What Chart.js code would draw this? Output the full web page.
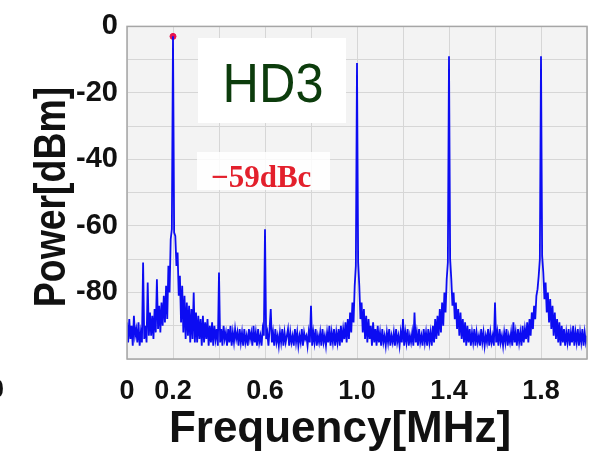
<!DOCTYPE html>
<html>
<head>
<meta charset="utf-8">
<script src="https://cdn.jsdelivr.net/npm/chart.js@4/dist/chart.umd.min.js"></script>
<style>
  html, body { margin: 0; padding: 0; background: #fff; }
  #wrap { width: 603px; height: 458px; }
</style>
</head>
<body>
<div id="wrap"><canvas id="spectrum" width="603" height="458"></canvas></div>
<script>
// spectrum of the HD3 measurement, one bin every 5 kHz from 0 to 2 MHz
const freqStartMHz = 0;
const freqStepMHz = 0.005;
const powerDbm = [
  -89, -95, -88, -94, -90, -96, -87, -93, -91, -95, -89, -96, -92, -95, -71, -94, -90, -95, -77, -93,
  -86, -93, -87, -94, -85, -92, -76, -91, -84, -92, -83, -90, -81, -89, -78, -88, -72, -80, -64, -61,
  -3, -62, -63, -72, -68, -81, -75, -89, -78, -92, -81, -94, -83, -93, -84, -95, -85, -94, -80, -95,
  -86, -95, -87, -94, -88, -96, -87, -95, -89, -94, -88, -96, -90, -95, -89, -96, -90, -94, -91, -96,
  -74, -95, -91, -96, -90, -94, -92, -96, -91, -95, -90, -96, -92, -95, -91, -94, -92, -96, -91, -95,
  -92, -96, -91, -95, -93, -96, -91, -94, -92, -96, -90, -95, -92, -96, -91, -95, -93, -96, -91, -93,
  -61, -94, -92, -96, -91, -85, -95, -92, -96, -91, -95, -93, -96, -92, -95, -91, -96, -92, -95, -93,
  -91, -96, -92, -95, -93, -96, -91, -95, -92, -96, -93, -95, -91, -96, -92, -94, -93, -96, -92, -95,
  -84, -96, -92, -95, -91, -96, -93, -95, -92, -96, -91, -95, -93, -96, -92, -95, -90, -96, -92, -95,
  -91, -96, -92, -95, -91, -96, -90, -95, -91, -94, -89, -95, -88, -94, -86, -92, -83, -89, -78, -72,
  -11, -71, -78, -88, -83, -92, -85, -94, -87, -95, -88, -94, -90, -96, -89, -95, -91, -96, -90, -95,
  -92, -96, -91, -95, -93, -96, -92, -95, -91, -96, -93, -95, -92, -96, -91, -95, -93, -96, -92, -95,
  -88, -96, -92, -95, -91, -96, -93, -95, -92, -96, -86, -95, -92, -96, -91, -95, -93, -96, -91, -95,
  -92, -96, -91, -95, -92, -96, -90, -95, -88, -94, -87, -93, -85, -92, -83, -90, -80, -86, -76, -71,
  -9, -70, -76, -84, -80, -88, -83, -91, -85, -93, -86, -94, -88, -95, -89, -96, -90, -95, -91, -96,
  -92, -95, -91, -96, -92, -95, -93, -96, -91, -95, -92, -96, -93, -95, -91, -96, -92, -95, -93, -96,
  -83, -95, -92, -96, -91, -95, -93, -96, -92, -95, -91, -96, -93, -95, -92, -96, -89, -95, -92, -96,
  -91, -95, -92, -96, -90, -95, -91, -94, -89, -95, -88, -93, -86, -91, -84, -88, -81, -79, -75, -70,
  -9, -69, -74, -82, -77, -86, -80, -89, -82, -91, -84, -93, -86, -94, -88, -95, -89, -96, -90, -95,
  -91, -96, -92, -95, -91, -96, -92, -95, -90, -96, -92, -95, -91, -96, -92, -95, -91, -96, -92, -95,
  -93
];

// carrier marker (red dot on the fundamental)
const markerFreq = [0.2];
const markerPower = [-3];

const xTickLabels = ['0', '0.2', '0.6', '1.0', '1.4', '1.8'];
const yTickLabels = ['0', '-20', '-40', '-60', '-80'];

const spectrumPoints = powerDbm.map((p, i) => ({ x: freqStartMHz + i * freqStepMHz, y: p }));
const markerPoints = markerFreq.map((f, i) => ({ x: f, y: markerPower[i] }));

function pickLabel(list, value) {
    const hit = list.find(l => Math.abs(Number(l) - value) < 1e-6);
    return hit === undefined ? '' : hit;
}

const sans = '"Liberation Sans", Arial, sans-serif';

// plot background, frame, axis titles and the two text boxes
const plotDecor = {
    id: 'plotDecor',
    beforeDraw(chart) {
        const { ctx, chartArea: a } = chart;
        ctx.save();
        ctx.fillStyle = '#f3f3f3';
        ctx.fillRect(a.left, a.top, a.right - a.left, a.bottom - a.top);
        ctx.restore();
    },
    afterDraw(chart) {
        const { ctx, chartArea: a } = chart;
        ctx.save();
        ctx.strokeStyle = '#a6a6a6';
        ctx.lineWidth = 1.5;
        ctx.strokeRect(a.left, a.top, a.right - a.left, a.bottom - a.top);

        // HD3 box
        ctx.fillStyle = '#ffffff';
        ctx.fillRect(198, 38, 148, 85);
        ctx.save();
        ctx.translate(273, 102);
        ctx.scale(0.9, 1);
        ctx.fillStyle = '#0c3c0c';
        ctx.font = '56px ' + sans;
        ctx.textAlign = 'center';
        ctx.textBaseline = 'alphabetic';
        ctx.fillText('HD3', 0, 0);
        ctx.restore();

        // -59dBc label
        ctx.fillStyle = 'rgba(255,255,255,0.85)';
        ctx.fillRect(197, 152, 133, 38);
        ctx.fillStyle = '#e3202c';
        ctx.font = 'bold 31px "Liberation Serif", "Times New Roman", serif';
        ctx.textAlign = 'left';
        ctx.fillText('\u221259dBc', 211, 187);

        // axis titles
        ctx.fillStyle = '#111';
        ctx.font = 'bold 44px ' + sans;
        ctx.textAlign = 'center';
        ctx.fillText('Frequency[MHz]', 340, 442);

        ctx.save();
        ctx.translate(65, 197);
        ctx.rotate(-Math.PI / 2);
        ctx.scale(0.85, 1);
        ctx.fillText('Power[dBm]', 0, 0);
        ctx.restore();

        // clipped label at the left edge of the crop
        ctx.font = 'bold 28px ' + sans;
        ctx.textAlign = 'right';
        ctx.fillText('0', 4, 398);
        ctx.restore();
    }
};

const ctx = document.getElementById('spectrum');
new Chart(ctx, {
    type: 'line',
    data: {
        datasets: [{
            label: 'Spectrum',
            data: spectrumPoints,
            borderColor: '#0c0cf2',
            borderWidth: 1.8,
            pointRadius: 0,
            tension: 0,
            fill: false,
        }, {
            label: 'Carrier',
            data: markerPoints,
            showLine: false,
            pointRadius: 3,
            pointBackgroundColor: '#e8124e',
            pointBorderColor: '#e8124e',
        }]
    },
    options: {
        responsive: false,
        animation: false,
        layout: { padding: { left: 0, top: 14, right: 9, bottom: 0 } },
        plugins: {
            legend: { display: false },
            tooltip: { enabled: false },
        },
        scales: {
            x: {
                type: 'linear',
                min: 0,
                max: 2,
                border: { display: false },
                grid: { color: '#d6d6d6', drawTicks: false },
                ticks: {
                    stepSize: 0.2,
                    autoSkip: false,
                    maxRotation: 0,
                    padding: 16,
                    color: '#111',
                    font: { family: sans, size: 27, weight: 'bold' },
                    callback: v => pickLabel(xTickLabels, v),
                },
                afterFit: s => { s.height = 99; },
            },
            y: {
                min: -100,
                max: 0,
                border: { display: false },
                grid: { color: '#d6d6d6', drawTicks: false },
                ticks: {
                    stepSize: 10,
                    autoSkip: false,
                    padding: 9,
                    color: '#111',
                    font: { family: sans, size: 29, weight: 'bold' },
                    callback: v => pickLabel(yTickLabels, v),
                },
                afterFit: s => { s.width = 127; },
            }
        }
    },
    plugins: [plotDecor]
});
</script>
</body>
</html>
